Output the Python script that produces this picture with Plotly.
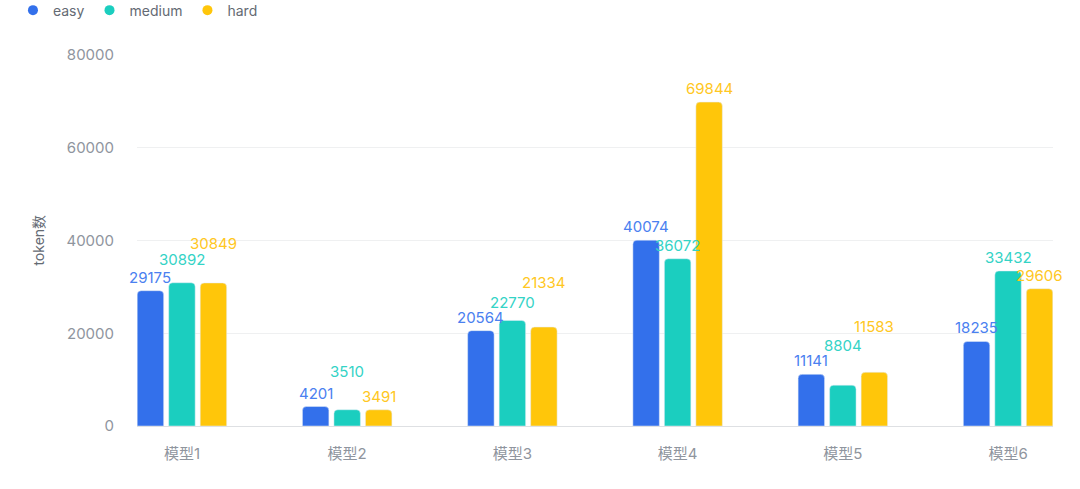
import plotly.graph_objects as go

categories = ["模型1", "模型2", "模型3", "模型4", "模型5", "模型6"]
series_names = ["easy", "medium", "hard"]
easy = [29175, 4201, 20564, 40074, 11141, 18235]
medium = [30892, 3510, 22770, 36072, 8804, 33432]
hard = [30849, 3491, 21334, 69844, 11583, 29606]
y_ticks = [0, 20000, 40000, 60000, 80000]
y_title = "token数"

colors = ["#3370EB", "#1BCEBF", "#FFC60A"]
label_colors = ["#4A80F0", "#34D3C6", "#FFC722"]
# extra vertical lift (px) applied by the label collision avoidance in the original
label_lift = [
    [0, 0, 0, 0, 0, 0],
    [10, 25, 4, 0, 26, 0],
    [26, 0, 31, 0, 32, 0],
]

FONT = "Inter, 'Noto Sans CJK SC', 'Noto Sans', sans-serif"
values = [easy, medium, hard]

fig = go.Figure()
for name, vals, col in zip(series_names, values, colors):
    fig.add_trace(go.Bar(
        x=categories, y=vals, name=name, marker=dict(color=col, cornerradius=4),
        showlegend=False, hoverinfo="x+y",
    ))
# legend entries with round markers
for name, col in zip(series_names, colors):
    fig.add_trace(go.Scatter(
        x=[None], y=[None], mode="markers", name=name,
        marker=dict(color=col, size=10, symbol="circle"),
    ))

annotations = []
pitch = 31.5
for si, (vals, col) in enumerate(zip(values, label_colors)):
    for ci, (cat, v) in enumerate(zip(categories, vals)):
        annotations.append(dict(
            x=cat, y=v, xref="x", yref="y", text=str(v), showarrow=False,
            xshift=(si - 1) * pitch, yshift=13.5 + label_lift[si][ci],
            yanchor="middle", xanchor="center",
            font=dict(family=FONT, size=15, color=col),
        ))
# y-axis title
annotations.append(dict(
    x=-0.108, y=0.5, xref="paper", yref="paper", text=y_title, showarrow=False,
    textangle=-90, xanchor="center", yanchor="middle",
    font=dict(family=FONT, size=14, color="#646A73"),
))

fig.update_layout(
    width=1080, height=489,
    margin=dict(l=137, r=27, t=55, b=63, autoexpand=False),
    paper_bgcolor="white", plot_bgcolor="white",
    barmode="group", bargap=0.428, bargroupgap=0.16,
    font=dict(family=FONT, color="#8F959E"),
    annotations=annotations,
    legend=dict(
        orientation="h", xref="container", yref="paper",
        x=0.012, y=1.163, xanchor="left", yanchor="top",
        font=dict(family=FONT, size=14, color="#646A73"),
        itemwidth=30, tracegroupgap=0,
    ),
    xaxis=dict(
        type="category", range=[-0.272, 5.272],
        showgrid=False, showline=True, linecolor="#DEE0E3", linewidth=1,
        ticks="", tickfont=dict(family=FONT, size=15, color="#8F959E"),
        ticklabelstandoff=14, zeroline=False,
    ),
    yaxis=dict(
        range=[0, 80000], tickvals=y_ticks, ticktext=[str(t) for t in y_ticks],
        showgrid=True, gridcolor="#EFF0F1", gridwidth=1,
        zeroline=False, showline=False, ticks="",
        tickfont=dict(family=FONT, size=15, color="#8F959E"),
        ticklabelstandoff=22,
    ),
)

fig.write_html("out.html")
